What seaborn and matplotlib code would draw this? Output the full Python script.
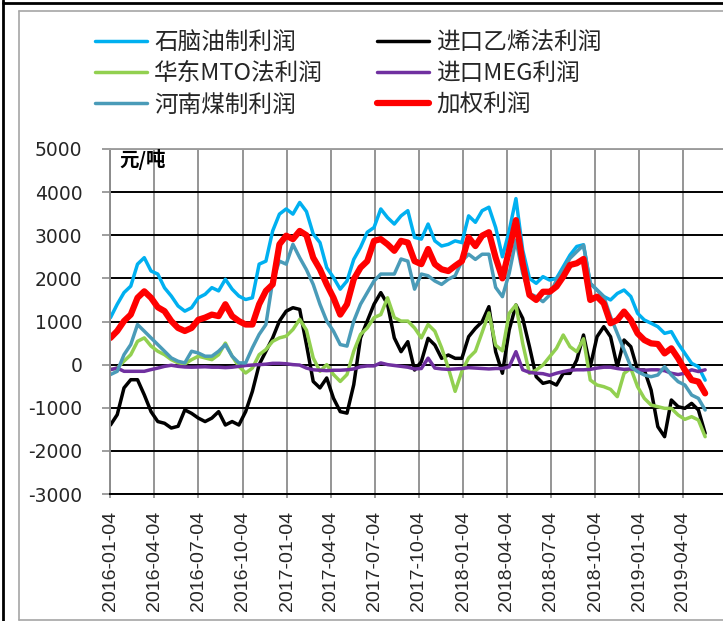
import matplotlib
matplotlib.use("Agg")
import matplotlib.pyplot as plt
from matplotlib.lines import Line2D
import pandas as pd
import seaborn as sns

# Fortnightly samples starting 2016-01-04 (元/吨)
start_date = "2016-01-04"
step_days = 14

naphtha = [1090, 1400, 1670, 1820, 2330, 2480, 2170, 2100, 1780, 1590,
           1360, 1240, 1320, 1550, 1630, 1785, 1710, 1980, 1750, 1590,
           1510, 1550, 2330, 2400, 3100, 3490, 3610, 3490, 3760, 3550,
           3030, 2830, 2250, 2020, 1750, 1940, 2440, 2720, 3070, 3180,
           3610, 3410, 3260, 3450, 3570, 2950, 2910, 3260, 2870, 2750,
           2790, 2870, 2830, 3450, 3300, 3570, 3650, 3180, 2500, 3100,
           3850, 2660, 2000, 1885, 2040, 1960, 2000, 2270, 2540, 2740,
           2780, 1885, 1730, 1580, 1500, 1650, 1730, 1580, 1190, 1035,
           960, 880, 725, 765, 490, 260, 30, -50, -360]

ethylene = [-1400, -1160, -540, -350, -350, -700, -1090, -1320, -1360, -1470,
            -1430, -1050, -1130, -1240, -1320, -1240, -1090, -1400, -1320, -1400,
            -1090, -620, 0, 310, 620, 1010, 1240, 1320, 1280, 465,
            -390, -540, -310, -780, -1090, -1125, -465, 620, 1010, 1400,
            1670, 1400, 620, 300, 532, -125, 68, 610, 455, 146,
            223, 146, 146, 648, 841, 996, 1344, 300, -200, 803,
            1383, 1074, 417, -280, -434, -395, -473, -202, -202, 107,
            687, -47, 648, 880, 648, -47, 571, 416, -125, -125,
            -589, -1439, -1671, -820, -975, -1014, -898, -1052, -1593]

mto = [-115, -80, 80, 230, 540, 620, 430, 310, 230, 115,
       40, 15, 115, 195, 155, 115, 230, 500, 195, -40,
       -195, -80, 230, 350, 540, 620, 660, 815, 1050, 800,
       155, -155, 0, -230, -390, -230, 310, 700, 850, 1090,
       1160, 1550, 1090, 1010, 1010, 850, 620, 930, 776, 390,
       -80, -620, -155, 155, 310, 750, 1200, 450, 320, 1190,
       1383, 493, -202, -125, -9, 185, 378, 687, 416, 300,
       600, -357, -473, -511, -573, -743, -202, -86, -511, -782,
       -937, -975, -1014, -1014, -1168, -1269, -1207, -1284, -1671]

meg = [-115, -80, -155, -155, -155, -155, -115, -80, -40, -15,
       -40, -55, -60, -55, -50, -60, -60, -70, -60, -40,
       -20, -10, 0, 10, 30, 30, 20, 0, -10, -80,
       -120, -130, -140, -130, -130, -120, -100, -50, -30, -30,
       40, 0, -20, -40, -60, -100, -90, 150, -80, -100,
       -110, -100, -90, -70, -80, -90, -100, -90, -90, -50,
       300, -120, -180, -200, -210, -250, -200, -160, -130, -120,
       -120, -110, -80, -60, -60, -90, -110, -100, -120, -130,
       -120, -120, -140, -200, -230, -200, -120, -160, -120]

henan_coal = [-230, -155, 230, 465, 930, 776, 620, 465, 310, 155,
              78, 40, 310, 270, 195, 195, 310, 465, 195, 40,
              40, 390, 700, 930, 1940, 2400, 2330, 2790, 2480, 2200,
              1860, 1400, 1010, 776, 465, 430, 1010, 1400, 1670, 1940,
              2100, 2100, 2100, 2450, 2400, 1750, 2100, 2060, 1940, 1860,
              1980, 2060, 2400, 2560, 2440, 2560, 2560, 1790, 1576, 2117,
              2890, 2117, 1650, 1576, 1460, 1615, 1960, 2195, 2465, 2620,
              2770, 1885, 1730, 1576, 1112, 726, 339, -47, -163, -240,
              -280, -240, -47, -240, -395, -473, -705, -782, -1052]

weighted = [620, 780, 1010, 1160, 1550, 1700, 1550, 1330, 1240, 1010,
            850, 780, 850, 1040, 1090, 1160, 1125, 1400, 1125, 1010,
            930, 930, 1400, 1710, 1860, 2790, 2990, 2910, 3100, 3000,
            2480, 2210, 1860, 1550, 1160, 1400, 1980, 2250, 2400, 2870,
            2910, 2790, 2640, 2870, 2830, 2400, 2330, 2680, 2330, 2210,
            2170, 2290, 2400, 2950, 2750, 2990, 3070, 2480, 2000, 2660,
            3350, 2350, 1615, 1500, 1690, 1690, 1810, 2040, 2310, 2350,
            2450, 1500, 1576, 1420, 960, 1035, 1230, 1035, 725, 570,
            493, 478, 260, 378, 146, -125, -357, -395, -666]

series_names = ["石脑油制利润", "进口乙烯法利润", "华东MTO法利润",
                "进口MEG利润", "河南煤制利润", "加权利润"]
series_values = [naphtha, ethylene, mto, meg, henan_coal, weighted]
series_colors = ["#00B0F0", "#000000", "#92D050", "#7030A0", "#4A9BB8", "#FF0000"]
series_widths = [2.5, 2.5, 2.5, 2.5, 2.5, 4.5]

tick_labels = ["2016-01-04", "2016-04-04", "2016-07-04", "2016-10-04",
               "2017-01-04", "2017-04-04", "2017-07-04", "2017-10-04",
               "2018-01-04", "2018-04-04", "2018-07-04", "2018-10-04",
               "2019-01-04", "2019-04-04"]
y_ticks = [-3000, -2000, -1000, 0, 1000, 2000, 3000, 4000, 5000]
unit_label = "元/吨"

dates = pd.date_range(start_date, periods=len(naphtha), freq=f"{step_days}D")

sns.set_theme(style="white")
plt.rcParams["font.family"] = ["Noto Sans CJK SC", "DejaVu Sans"]

fig = plt.figure(figsize=(7.23, 6.21), dpi=100)
ax = fig.add_axes([110 / 723, 127 / 621, 613 / 723, 345 / 621])

handles = []
for name, vals, col, lw in zip(series_names, series_values, series_colors, series_widths):
    sns.lineplot(x=dates, y=vals, ax=ax, color=col, linewidth=lw, label=name)
    handles.append(ax.lines[-1])
if ax.get_legend() is not None:
    ax.get_legend().remove()

ax.set_xlim(pd.Timestamp("2016-01-03"), pd.Timestamp("2019-06-26"))
ax.set_ylim(-3000, 5000)
ax.set_yticks(y_ticks)
ax.set_yticklabels([str(v) for v in y_ticks], fontfamily="DejaVu Sans", fontsize=13.5)
tick_dates = pd.to_datetime(tick_labels)
ax.set_xticks(tick_dates)
ax.set_xticklabels(tick_labels, rotation=90, fontfamily="Liberation Sans", fontsize=14)
ax.set_xlabel("")
ax.set_ylabel("")

ax.set_axisbelow(True)
ax.yaxis.grid(True, color="#000000", linewidth=1.4)
ax.xaxis.grid(True, color="#959595", linewidth=1.4)
ax.tick_params(axis="y", direction="out", length=6, width=1.2, color="#8c8c8c", pad=14, left=True)
ax.tick_params(axis="x", direction="out", length=3, width=1.2, color="#8c8c8c", pad=9, bottom=True)

ax.spines["right"].set_visible(False)
ax.spines["left"].set_color("#8c8c8c")
ax.spines["left"].set_linewidth(1.4)
ax.spines["top"].set_color("#a0a0a0")
ax.spines["top"].set_linewidth(1.4)
ax.spines["bottom"].set_color("#000000")
ax.spines["bottom"].set_linewidth(1.4)

ax.text(0.016, 1.0, unit_label, transform=ax.transAxes, ha="left", va="top",
        fontsize=14, fontweight="bold", color="#000000")

# Legend: two columns, filled row by row
order = [0, 2, 4, 1, 3, 5]
fig.legend([handles[i] for i in order], [series_names[i] for i in order],
           ncol=2, loc="upper left", bbox_to_anchor=(95 / 723, 1 - 31 / 621),
           frameon=False, fontsize=17, handlelength=2.2, handletextpad=0.3,
           columnspacing=2.3, labelspacing=0.35, borderpad=0, borderaxespad=0)

# Chart frame
W, H = 723, 621
def fig_line(xs, ys, color, lw):
    fig.add_artist(Line2D([x / W for x in xs], [1 - y / H for y in ys],
                          transform=fig.transFigure, color=color, linewidth=lw))

fig_line([3, 3], [0, H], "#000000", 2.0)
fig_line([3, W], [3, 3], "#000000", 2.0)
fig_line([19, 19], [11, 620], "#a6a6a6", 1.2)
fig_line([19, W], [11, 11], "#a6a6a6", 1.2)
fig_line([19, W], [620, 620], "#a6a6a6", 1.2)

fig.savefig("out.png", dpi=100)
